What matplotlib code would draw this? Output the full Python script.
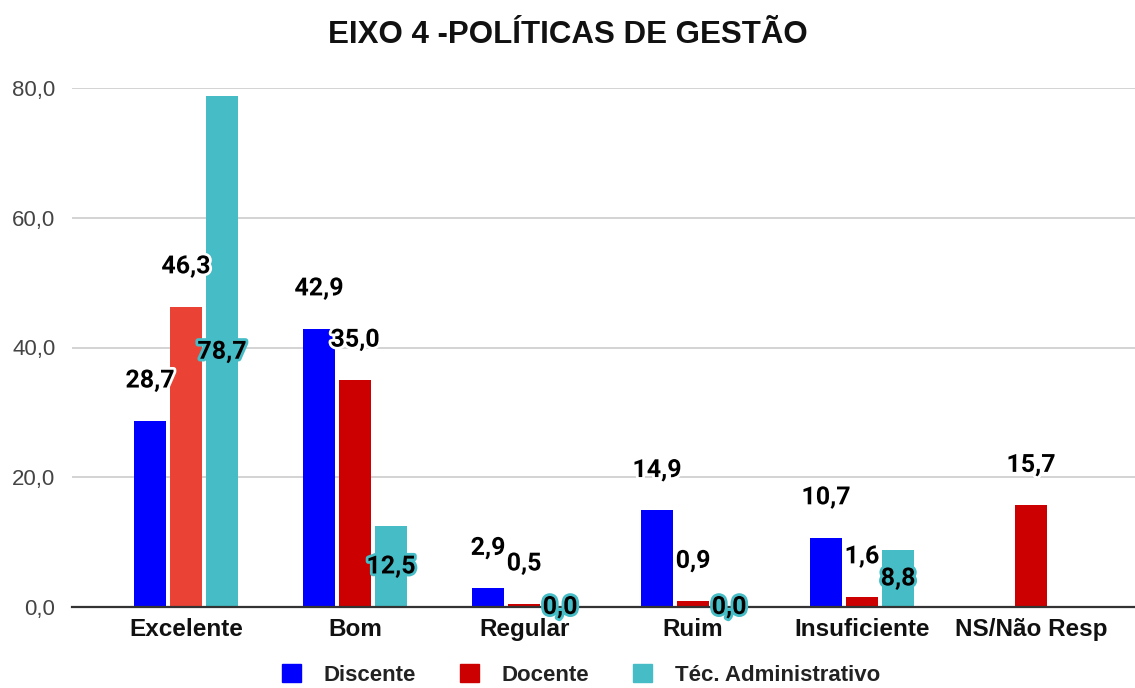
import numpy as np
import matplotlib.pyplot as plt
import matplotlib.patheffects as pe
from matplotlib.patches import Patch

# dados
categorias = ["Excelente", "Bom", "Regular", "Ruim", "Insuficiente", "NS/Não Resp"]
discente = [28.7, 42.9, 2.9, 14.9, 10.7, np.nan]
docente = [46.3, 35.0, 0.5, 0.9, 1.6, 15.7]
tecnico = [78.7, 12.5, 0.0, 0.0, 8.8, np.nan]
series = ["Discente", "Docente", "Téc. Administrativo"]

cor_disc = "#0000ff"
cor_doc = "#cc0000"
cor_tec = "#46bdc6"
cores_doc = ["#ea4335"] + [cor_doc] * 5  # Excelente do docente aparece mais claro


def fmt(v):
    return f"{v:.1f}".replace(".", ",")


fig = plt.figure(figsize=(11.35, 6.88), dpi=100)
ax = fig.add_axes([72 / 1135, 81 / 688, 1 - 72 / 1135, (607 - 88) / 688])

x = np.arange(len(categorias))
w = 0.19
d = 0.213

b1 = ax.bar(x - d, discente, w, color=cor_disc, zorder=2)
b2 = ax.bar(x, docente, w, color=cores_doc, zorder=2)
b3 = ax.bar(x + d, tecnico, w, color=cor_tec, zorder=2)

halo_branco = [pe.withStroke(linewidth=4, foreground="white")]
halo_tec = [pe.withStroke(linewidth=4, foreground=cor_tec)]

# rótulos acima das barras (discente e docente)
for xs, vals in [(x - d, discente), (x, docente)]:
    for xi, v in zip(xs, vals):
        if np.isnan(v):
            continue
        ax.annotate(fmt(v), (xi, v), xytext=(0, 29), textcoords="offset points",
                    ha="center", va="center", fontsize=18, fontweight="bold",
                    family="Roboto", color="black", path_effects=halo_branco, zorder=4)

# rótulos do técnico ficam no meio da barra
for xi, v in zip(x + d, tecnico):
    if np.isnan(v):
        continue
    ax.text(xi, v / 2, fmt(v), ha="center", va="center", fontsize=18,
            fontweight="bold", family="Roboto", color="black",
            path_effects=halo_tec, zorder=4)

ax.set_xlim(-0.675, 5.615)
ax.set_ylim(0, 80)
ax.set_yticks([0, 20, 40, 60, 80])
ax.set_yticklabels([fmt(t) for t in [0, 20, 40, 60, 80]], fontsize=16,
                   color="#444444", family="Liberation Sans")
ax.set_xticks(x)
ax.set_xticklabels(categorias, fontsize=17.5, fontweight="bold",
                   family="Liberation Sans", color="#111111")
ax.tick_params(axis="both", length=0, pad=8)
ax.tick_params(axis="y", pad=12)

ax.grid(axis="y", color="#cccccc", linewidth=1.2, zorder=0)
for s in ["top", "right", "left"]:
    ax.spines[s].set_visible(False)
ax.spines["bottom"].set_color("#333333")
ax.spines["bottom"].set_linewidth(1.6)
ax.spines["bottom"].set_zorder(3)

fig.text(0.5, 1 - 35 / 688, "EIXO 4 -POLÍTICAS DE GESTÃO", ha="center", va="center",
         fontsize=22.5, fontweight="bold", family="Liberation Sans", color="#111111")

handles = [Patch(color=c) for c in [cor_disc, cor_doc, cor_tec]]
leg = fig.legend(handles, series, loc="center", bbox_to_anchor=(0.512, 13 / 688), ncol=3,
                 frameon=False, prop={"family": "Liberation Sans", "weight": "bold", "size": 16},
                 handlelength=0.85, handleheight=0.85, handletextpad=1.0, columnspacing=2.0)
for t in leg.get_texts():
    t.set_color("#222222")

fig.savefig("out.png", dpi=100)
